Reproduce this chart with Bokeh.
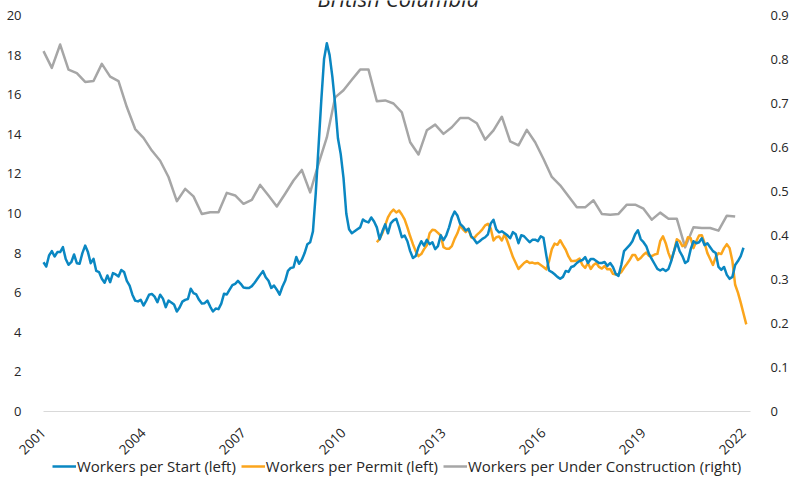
import math
import numpy as np
from bokeh.plotting import figure
from bokeh.models import (Range1d, LinearAxis, FixedTicker, Legend, LegendItem,
                          Label, ColumnDataSource, NumeralTickFormatter)
from bokeh.embed import file_html
from bokeh.resources import INLINE

title_text = "British Columbia"
tick_years = ["2001", "2004", "2007", "2010", "2013", "2016", "2019", "2022"]
left_ticks = [0, 2, 4, 6, 8, 10, 12, 14, 16, 18, 20]
right_ticks = [0, 0.1, 0.2, 0.3, 0.4, 0.5, 0.6, 0.7, 0.8, 0.9]
series_names = ["Workers per Start (left)", "Workers per Permit (left)",
                "Workers per Under Construction (right)"]

# monthly, Jan 2001 -> Jan 2022
per_start = [
    7.54, 7.32, 7.88, 8.10, 7.83, 8.05, 8.05, 8.30, 7.70, 7.41, 7.54, 7.93,
    7.49, 7.46, 8.00, 8.38, 8.05, 7.49, 7.71, 7.10, 7.04, 6.70, 6.50, 6.87,
    6.53, 6.99, 6.92, 6.82, 7.15, 7.05, 6.60, 6.36, 5.90, 5.60, 5.56, 5.64,
    5.35, 5.60, 5.90, 5.94, 5.80, 5.52, 5.90, 5.70, 5.27, 5.60, 5.50, 5.40,
    5.05, 5.25, 5.55, 5.64, 5.68, 6.20, 5.98, 5.91, 5.64, 5.45, 5.47, 5.60,
    5.30, 5.05, 5.20, 5.17, 5.45, 5.95, 5.91, 6.15, 6.38, 6.45, 6.60, 6.45,
    6.26, 6.24, 6.24, 6.33, 6.50, 6.70, 6.90, 7.09, 6.78, 6.60, 6.24, 6.36,
    6.15, 5.90, 6.30, 6.60, 7.10, 7.25, 7.28, 7.80, 7.46, 7.66, 8.00, 8.45,
    8.55, 9.10, 11.0, 13.35, 15.7, 17.8, 18.6, 18.0, 16.9, 15.5, 13.8, 13.0,
    11.8, 10.0, 9.20, 9.00, 9.10, 9.20, 9.30, 9.70, 9.60, 9.55, 9.80, 9.60,
    9.30, 8.70, 9.10, 9.45, 9.00, 9.50, 9.65, 9.73, 9.30, 8.80, 8.89, 8.60,
    8.10, 7.75, 7.85, 8.30, 8.60, 8.38, 8.67, 8.45, 8.55, 8.20, 8.35, 8.90,
    8.65, 8.90, 9.30, 9.80, 10.1, 9.90, 9.48, 9.34, 9.14, 9.23, 8.85, 8.70,
    8.50, 8.60, 8.72, 8.80, 8.95, 9.50, 9.68, 9.20, 9.05, 9.10, 9.00, 8.90,
    8.75, 9.06, 8.95, 8.50, 8.90, 8.85, 8.70, 8.55, 8.67, 8.68, 8.60, 8.85,
    8.77, 7.90, 7.12, 7.04, 6.93, 6.80, 6.70, 6.80, 7.10, 7.05, 7.30, 7.35,
    7.50, 7.60, 7.65, 7.80, 7.50, 7.70, 7.70, 7.60, 7.50, 7.50, 7.55, 7.35,
    7.50, 7.30, 6.95, 6.85, 7.40, 8.10, 8.25, 8.40, 8.60, 8.95, 9.15, 8.70,
    8.55, 8.35, 7.95, 7.70, 7.45, 7.20, 7.12, 7.20, 7.10, 7.20, 7.60, 8.10,
    8.55, 8.10, 7.85, 7.50, 7.60, 8.20, 8.60, 8.50, 8.55, 8.75, 8.40, 8.50,
    8.30, 8.10, 8.00, 7.30, 7.15, 7.30, 6.90, 6.70, 6.80, 7.40, 7.60, 7.85,
    8.27,
]

# monthly, Jan 2011 -> Feb 2022
permit_first_month = 120
per_permit = [
    8.55, 8.72, 9.00, 9.40, 9.80, 10.05, 10.2, 10.05, 10.15, 9.95, 9.70, 9.30,
    8.85, 8.45, 8.10, 7.85, 7.95, 8.20, 8.40, 9.00, 9.18, 9.15, 9.02, 8.89,
    8.30, 8.22, 8.22, 8.35, 8.72, 9.00, 9.40, 9.20, 9.06, 9.23, 8.80, 8.75,
    8.92, 9.05, 9.20, 9.40, 9.48, 9.25, 8.64, 8.80, 8.84, 8.64, 8.95, 8.60,
    8.20, 7.80, 7.50, 7.20, 7.35, 7.50, 7.60, 7.50, 7.52, 7.47, 7.50, 7.40,
    7.30, 7.18, 7.60, 8.20, 8.48, 8.42, 8.65, 8.40, 8.17, 7.83, 7.60, 7.60,
    7.63, 7.72, 7.40, 7.25, 7.50, 7.20, 7.40, 7.50, 7.30, 7.22, 7.35, 7.18,
    7.20, 6.95, 6.92, 6.95, 7.04, 7.26, 7.45, 7.65, 7.90, 7.90, 7.65, 7.75,
    7.92, 8.03, 7.85, 7.85, 7.93, 7.96, 8.60, 8.85, 8.50, 8.00, 7.65, 8.10,
    8.70, 8.60, 8.35, 8.40, 8.80, 8.75, 8.25, 8.60, 8.89, 8.90, 8.50, 8.00,
    7.70, 7.40, 7.80, 8.00, 7.95, 8.25, 8.45, 8.25, 7.60, 6.40, 6.00, 5.50,
    4.95, 4.40,
]

# quarterly, 2001Q1 -> 2021Q4
per_under_construction = [
    0.819, 0.781, 0.834, 0.777, 0.769, 0.749, 0.751, 0.790, 0.761, 0.751,
    0.692, 0.642, 0.622, 0.593, 0.570, 0.533, 0.478, 0.506, 0.489, 0.449,
    0.453, 0.453, 0.497, 0.491, 0.472, 0.481, 0.515, 0.491, 0.466, 0.495,
    0.525, 0.549, 0.498, 0.563, 0.623, 0.714, 0.730, 0.754, 0.777, 0.777,
    0.705, 0.707, 0.700, 0.680, 0.612, 0.584, 0.639, 0.652, 0.631, 0.646,
    0.667, 0.667, 0.655, 0.618, 0.639, 0.670, 0.614, 0.605, 0.640, 0.612,
    0.574, 0.533, 0.514, 0.489, 0.464, 0.464, 0.480, 0.449, 0.447, 0.449,
    0.470, 0.470, 0.461, 0.436, 0.452, 0.438, 0.438, 0.373, 0.419, 0.417,
    0.417, 0.411, 0.445, 0.443,
]

BLUE = "#0a87c2"
ORANGE = "#fba51c"
GRAY = "#a6a6a6"
TXT = "#262626"
FONT = "Open Sans"

src_start = ColumnDataSource(dict(x=np.arange(len(per_start)), y=per_start))
src_permit = ColumnDataSource(dict(x=permit_first_month + np.arange(len(per_permit)), y=per_permit))
src_uc = ColumnDataSource(dict(x=3 * np.arange(len(per_under_construction)), y=per_under_construction))

# The frame fills the whole canvas; axes are pinned inside it.
W, H = 793, 485
PLOT_L, PLOT_R = 43, 750          # pixel span of the plotting area
PPM = 700 / 252                   # pixels per month
X_LO, X_HI = -PLOT_L / PPM, (W - PLOT_L) / PPM
X_END = (PLOT_R - PLOT_L) / PPM
Y_LO, Y_HI = -3.7374, 20.7576     # left 0..20 sits at 411..15 px
R_SCALE = 0.9 / 20

p = figure(width=W, height=H, output_backend="svg", toolbar_location=None,
           x_range=Range1d(X_LO, X_HI), y_range=Range1d(Y_LO, Y_HI),
           min_border=0, min_border_left=0, min_border_right=0,
           min_border_top=0, min_border_bottom=0)
p.outline_line_color = None
p.background_fill_color = "white"
p.border_fill_color = "white"
p.grid.visible = False

p.extra_y_ranges = {"right": Range1d(Y_LO * R_SCALE, Y_HI * R_SCALE)}

r_uc = p.line("x", "y", source=src_uc, y_range_name="right", color=GRAY, line_width=2.5,
              line_join="round")
r_permit = p.line("x", "y", source=src_permit, color=ORANGE, line_width=2.5, line_join="round")
r_start = p.line("x", "y", source=src_start, color=BLUE, line_width=2.5, line_join="round")

xticks = [(int(y) - 2001) * 12 for y in tick_years]
xa = p.xaxis[0]
xa.fixed_location = 0
xa.bounds = (0, X_END)
xa.ticker = FixedTicker(ticks=xticks)
xa.major_label_overrides = {t: lbl for t, lbl in zip(xticks, tick_years)}
xa.major_label_orientation = math.pi / 4
xa.axis_line_color = "#d9d9d9"
xa.axis_line_width = 1
xa.major_tick_line_color = None
xa.minor_tick_line_color = None
xa.major_label_standoff = 13
xa.major_label_text_font = FONT
xa.major_label_text_font_size = "13.5px"
xa.major_label_text_color = TXT

ya = p.yaxis[0]
ya.fixed_location = 0
ya.ticker = FixedTicker(ticks=left_ticks)
ya.axis_line_color = None
ya.major_tick_line_color = None
ya.minor_tick_line_color = None
ya.major_label_standoff = 16
ya.major_label_text_font = FONT
ya.major_label_text_font_size = "13px"
ya.major_label_text_color = TXT

yr = LinearAxis(y_range_name="right", ticker=FixedTicker(ticks=right_ticks),
                formatter=NumeralTickFormatter(format="0.[0]"))
yr.fixed_location = X_END
yr.axis_line_color = None
yr.major_tick_line_color = None
yr.minor_tick_line_color = None
yr.major_label_standoff = 14
yr.major_label_text_font = FONT
yr.major_label_text_font_size = "13px"
yr.major_label_text_color = TXT
p.add_layout(yr, "right")

legend = Legend(items=[LegendItem(label=series_names[0], renderers=[r_start]),
                       LegendItem(label=series_names[1], renderers=[r_permit]),
                       LegendItem(label=series_names[2], renderers=[r_uc])],
                location=(PLOT_L + 9, 9), orientation="horizontal")
legend.label_text_font = FONT
legend.label_text_font_size = "15px"
legend.label_text_color = TXT
legend.background_fill_alpha = 0
legend.border_line_alpha = 0
legend.padding = 0
legend.margin = 0
legend.spacing = 5
legend.glyph_width = 24
legend.glyph_height = 20
legend.label_height = 20
legend.label_standoff = 1
p.add_layout(legend)

title = Label(x=X_END / 2 + 0.5, y=20.5, y_offset=8, text=title_text, text_align="center",
              text_baseline="alphabetic", text_font=FONT, text_font_style="italic",
              text_font_size="22px", text_color=TXT)
p.add_layout(title)

open("out.html", "w").write(file_html(p, INLINE))
